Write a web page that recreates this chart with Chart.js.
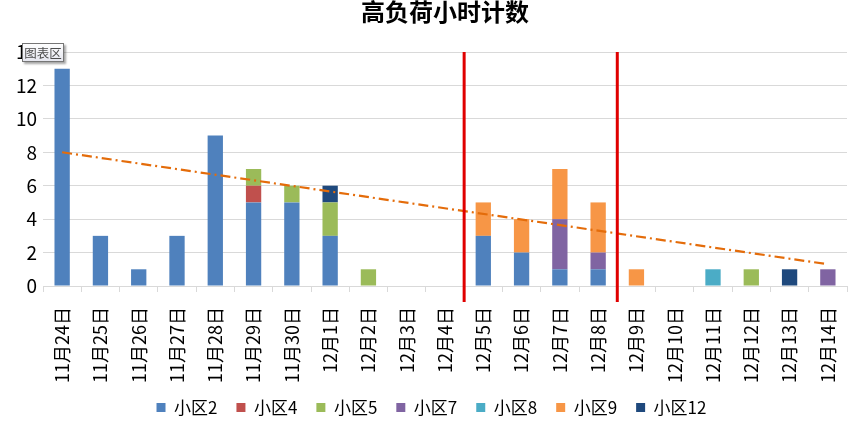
<!DOCTYPE html>
<html>
<head>
<meta charset="utf-8">
<script src="https://cdn.jsdelivr.net/npm/chart.js@4.4.0/dist/chart.umd.min.js"></script>
<style>
html,body{margin:0;padding:0;background:#fff;}
#wrap{width:854px;height:422px;position:relative;}
</style>
</head>
<body>
<div id="wrap"><canvas id="c" width="854" height="422"></canvas></div>
<script>
const categories = ["11月24日","11月25日","11月26日","11月27日","11月28日","11月29日","11月30日","12月1日","12月2日","12月3日","12月4日","12月5日","12月6日","12月7日","12月8日","12月9日","12月10日","12月11日","12月12日","12月13日","12月14日"];
const seriesNames = ["小区2","小区4","小区5","小区7","小区8","小区9","小区12"];
const area2  = [13,3,1,3,9,5,5,3,0,0,0,3,2,1,1,0,0,0,0,0,0];
const area4  = [0,0,0,0,0,1,0,0,0,0,0,0,0,0,0,0,0,0,0,0,0];
const area5  = [0,0,0,0,0,1,1,2,1,0,0,0,0,0,0,0,0,0,1,0,0];
const area7  = [0,0,0,0,0,0,0,0,0,0,0,0,0,3,1,0,0,0,0,0,1];
const area8  = [0,0,0,0,0,0,0,0,0,0,0,0,0,0,0,0,0,1,0,0,0];
const area9  = [0,0,0,0,0,0,0,0,0,0,0,2,2,3,3,1,0,0,0,0,0];
const area12 = [0,0,0,0,0,0,0,1,0,0,0,0,0,0,0,0,0,0,0,1,0];
// trend line endpoints (first and last category)
const trendLine = [8.0,null,null,null,null,null,null,null,null,null,null,null,null,null,null,null,null,null,null,null,1.3];
const yTicks = [0,2,4,6,8,10,12,14];
// red marker lines sit right after these categories
const markerAfter = ["12月4日","12月8日"];

const colors = ["#4F81BD","#C0504D","#9BBB59","#8064A2","#4BACC6","#F79646","#1F497D"];
const seriesData = [area2,area4,area5,area7,area8,area9,area12];
const FONT = '"Noto Sans CJK SC", "Microsoft YaHei", sans-serif';
const LEG_PAD = 19, LEG_FONT = 17;

const datasets = seriesNames.map((n,i)=>({
  type:'bar', label:n, data:seriesData[i], backgroundColor:colors[i],
  stack:'s', categoryPercentage:1.0, barPercentage:0.4, borderWidth:0, order:2
}));
datasets.push({
  type:'line', label:'trend', data:trendLine, borderColor:'#E46C0A', borderWidth:2.2,
  borderDash:[10,4,2,4], pointRadius:0, spanGaps:true, fill:false, order:1, tension:0
});

const overlay = {
  id:'overlay',
  beforeDraw(chart){
    const lg = chart.legend;
    if (lg) {
      const h = lg.bottom - lg.top;
      lg.left += 8; lg.right += 8;
      lg.top = 407.5 - LEG_PAD - LEG_FONT/2;
      lg.bottom = lg.top + h;
    }
    // let the rotated category labels run a little past the scale box
    const xs = chart.scales.x;
    xs.bottom = Math.max(xs.bottom, 396);
  },
  afterDatasetsDraw(chart){
    const ctx = chart.ctx, x = chart.scales.x, a = chart.chartArea;
    ctx.save();
    ctx.strokeStyle = '#E00000'; ctx.lineWidth = 3;
    markerAfter.forEach(lbl=>{
      const i = categories.indexOf(lbl);
      const px = (x.getPixelForValue(i)+x.getPixelForValue(i+1))/2;
      ctx.beginPath(); ctx.moveTo(px,a.top); ctx.lineTo(px,a.bottom+16); ctx.stroke();
    });
    ctx.restore();
  },
  afterDraw(chart){
    const ctx = chart.ctx, a = chart.chartArea;
    ctx.save();
    ctx.fillStyle = '#000';
    ctx.font = 'bold 24px ' + FONT;
    ctx.textAlign = 'center'; ctx.textBaseline = 'middle';
    ctx.fillText('高负荷小时计数', (a.left+a.right)/2, 12);
    // "图表区" hover label
    const bx=22, by=43, bw=42, bh=19;
    ctx.shadowColor='rgba(0,0,0,0.35)'; ctx.shadowOffsetX=2; ctx.shadowOffsetY=2; ctx.shadowBlur=2;
    const g = ctx.createLinearGradient(0,by,0,by+bh);
    g.addColorStop(0,'#ffffff'); g.addColorStop(1,'#e4e5ee');
    ctx.fillStyle = g;
    ctx.fillRect(bx,by,bw,bh);
    ctx.shadowColor='transparent';
    ctx.strokeStyle='#767676'; ctx.lineWidth=1;
    ctx.strokeRect(bx+0.5,by+0.5,bw-1,bh-1);
    ctx.fillStyle='#4c4c4c';
    ctx.font = '12.5px ' + FONT;
    ctx.fillText('图表区', bx+bw/2, by+bh/2+1);
    ctx.restore();
  }
};

new Chart(document.getElementById('c'), {
  data:{labels:categories, datasets},
  options:{
    responsive:false, animation:false,
    layout:{padding:{top:52,right:7,left:0,bottom:0}},
    plugins:{
      legend:{
        position:'bottom',
        labels:{
          font:{size:LEG_FONT,family:FONT}, color:'#000', boxWidth:9, boxHeight:9,
          padding:LEG_PAD,
          filter:(item)=>item.text!=='trend'
        }
      },
      tooltip:{enabled:false}, title:{display:false}
    },
    scales:{
      x:{
        stacked:true, offset:true,
        grid:{display:true, drawOnChartArea:false, drawTicks:true, tickLength:6, color:'#D9D9D9', offset:true},
        border:{display:true, color:'#D9D9D9'},
        ticks:{font:{size:18,family:FONT}, color:'#000', maxRotation:90, minRotation:90, autoSkip:false, padding:15},
        afterFit(s){
          const lg = s.chart.legend;
          const lh = lg ? (lg.height || 0) : 0;
          s.height = 422 - 286 - lh;
          s.paddingLeft = 0; s.paddingRight = 0;
        }
      },
      y:{
        stacked:true, min:0, max:14,
        afterBuildTicks(s){ s.ticks = yTicks.map(v=>({value:v})); },
        grid:{color:'#D9D9D9', drawTicks:false, lineWidth:1},
        border:{display:false},
        ticks:{font:{size:19,family:FONT}, color:'#000', padding:6},
        afterFit(s){ s.width = 43; s.paddingTop = 0; s.paddingBottom = 0; }
      }
    }
  },
  plugins:[overlay]
});
</script>
</body>
</html>
